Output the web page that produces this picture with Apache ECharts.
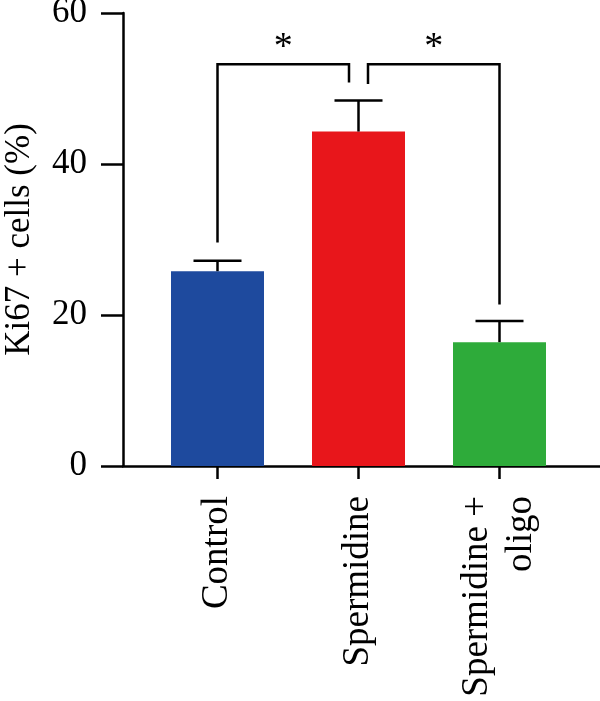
<!DOCTYPE html>
<html>
<head>
<meta charset="utf-8">
<script src="https://cdn.jsdelivr.net/npm/echarts@6/dist/echarts.min.js"></script>
<style>
  html, body { margin: 0; padding: 0; background: #fff; }
  #main { width: 600px; height: 701px; }
</style>
</head>
<body>
<div id="main"></div>
<script>
// groups on the x axis
var categories = ['Control', 'Spermidine', 'Spermidine +\noligo'];
// mean Ki67+ cells (%)
var means = [25.8, 44.3, 16.4];
// upper error (SEM) on top of each bar
var errors = [1.4, 4.1, 2.8];
var barColors = ['#1e4a9e', '#e8161b', '#2eab3a'];

// significance brackets: [from group, to group]
var bracketPairs = [[0, 1], [1, 2]];
var bracketTop = [53.2, 53.2];
var bracketLeftEnd = [29.6, 50.6];
var bracketRightEnd = [50.8, 21.4];
var sigLabels = ['*', '*'];

var FONT = 'Liberation Serif';
var LW = 2.5;

var myChart = echarts.init(document.getElementById('main'));

// end points shared by two brackets get pulled in a little
function sharedEnd(cat) {
  var n = 0;
  bracketPairs.forEach(function (p) {
    if (p[0] === cat || p[1] === cat) n++;
  });
  return n > 1;
}

var option = {
  animation: false,
  backgroundColor: '#fff',
  grid: [
    // frame grid: draws the long axis lines
    { left: 123, right: 0, top: 13, bottom: 235, outerBoundsMode: 'none', containLabel: false },
    // bars grid
    { left: 147, width: 423, top: 13, bottom: 235, outerBoundsMode: 'none', containLabel: false }
  ],
  xAxis: [
    {
      gridIndex: 0, type: 'value', min: 0, max: 1,
      axisLine: { show: true, lineStyle: { color: '#000', width: LW } },
      axisTick: { show: false }, axisLabel: { show: false }, splitLine: { show: false }
    },
    {
      gridIndex: 1, type: 'category', data: categories,
      axisLine: { show: false },
      axisTick: { show: true, alignWithLabel: true, length: 13, lineStyle: { color: '#000', width: LW } },
      axisLabel: {
        rotate: 90, margin: 30, color: '#000', fontFamily: FONT, fontSize: 37,
        lineHeight: 44, interval: 0
      }
    }
  ],
  yAxis: [
    {
      gridIndex: 0, type: 'value', min: 0, max: 60, interval: 20,
      name: 'Ki67 + cells (%)', nameLocation: 'middle', nameGap: 86,
      nameTextStyle: { color: '#000', fontFamily: FONT, fontSize: 35 },
      axisLine: { show: true, lineStyle: { color: '#000', width: LW } },
      axisTick: { show: true, length: 22, lineStyle: { color: '#000', width: LW } },
      axisLabel: { color: '#000', fontFamily: FONT, fontSize: 35, margin: 36 },
      splitLine: { show: false }
    },
    {
      gridIndex: 1, type: 'value', min: 0, max: 60, show: false
    }
  ],
  series: [
    {
      type: 'bar', xAxisIndex: 1, yAxisIndex: 1,
      barWidth: 93,
      data: means.map(function (v, i) {
        return { value: v, itemStyle: { color: barColors[i] } };
      })
    },
    {
      // error bars
      type: 'custom', xAxisIndex: 1, yAxisIndex: 1, z: 3,
      data: means.map(function (v, i) { return [i, v, v + errors[i]]; }),
      renderItem: function (params, api) {
        var base = api.coord([api.value(0), api.value(1)]);
        var top = api.coord([api.value(0), api.value(2)]);
        var half = 24;
        var st = { stroke: '#000', lineWidth: LW, fill: null };
        return {
          type: 'group',
          children: [
            { type: 'line', shape: { x1: base[0], y1: base[1], x2: top[0], y2: top[1] }, style: st },
            { type: 'line', shape: { x1: top[0] - half, y1: top[1], x2: top[0] + half, y2: top[1] }, style: st }
          ]
        };
      }
    },
    {
      // significance brackets
      type: 'custom', xAxisIndex: 1, yAxisIndex: 1, z: 3,
      data: bracketPairs.map(function (p, i) {
        return [p[0], p[1], bracketTop[i], bracketLeftEnd[i], bracketRightEnd[i]];
      }),
      renderItem: function (params, api) {
        var a = api.value(0), b = api.value(1);
        var pTop = api.coord([a, api.value(2)]);
        var pL = api.coord([a, api.value(3)]);
        var pR = api.coord([b, api.value(4)]);
        var inset = 9.5;
        var xL = pL[0] + (sharedEnd(a) ? inset : 0);
        var xR = pR[0] - (sharedEnd(b) ? inset : 0);
        var yT = pTop[1];
        return {
          type: 'group',
          children: [
            {
              type: 'polyline',
              shape: { points: [[xL, pL[1]], [xL, yT], [xR, yT], [xR, pR[1]]] },
              style: { stroke: '#000', lineWidth: LW, fill: null }
            },
            {
              type: 'text',
              style: {
                text: sigLabels[params.dataIndex], x: (xL + xR) / 2, y: yT + 3,
                align: 'center', verticalAlign: 'bottom',
                fontFamily: FONT, fontSize: 38, fill: '#000'
              }
            }
          ]
        };
      }
    }
  ]
};

myChart.setOption(option);
</script>
</body>
</html>
